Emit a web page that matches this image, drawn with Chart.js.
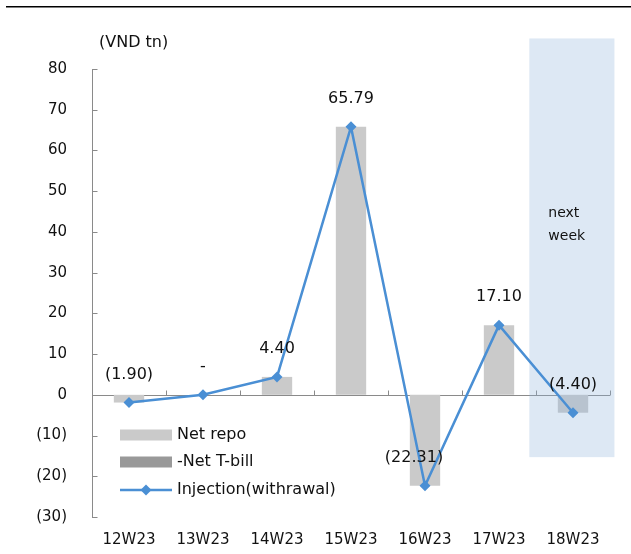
<!DOCTYPE html>
<html>
<head>
<meta charset="utf-8">
<script src="https://cdn.jsdelivr.net/npm/chart.js@4/dist/chart.umd.min.js"></script>
<style>
  html, body { margin: 0; padding: 0; background: #fff; }
  #wrap { position: relative; width: 631px; height: 554px; }
</style>
</head>
<body>
<div id="wrap"><canvas id="c" width="631" height="554"></canvas></div>
<script>
// Weekly liquidity operations (VND tn)
const categories = ['12W23', '13W23', '14W23', '15W23', '16W23', '17W23', '18W23'];
const netRepo    = [-1.90, 0, 4.40, 65.79, -22.31, 17.10, -4.40];
const netTbill   = [0, 0, 0, 0, 0, 0, 0];
const injection  = [-1.90, 0, 4.40, 65.79, -22.31, 17.10, -4.40];
const yMin = -30, yMax = 80, yStep = 10;
const unitLabel = '(VND tn)';
const forecastText = ['next', 'week'];
const forecastIndex = 6;

const FONT = '"DejaVu Sans", Verdana, sans-serif';
const LINE_BLUE = '#4a8fd4';
const AXIS_GREY = '#8a8a8a';

function fmt(v) {
  if (v === 0) return '-';
  return v < 0 ? '(' + Math.abs(v).toFixed(2) + ')' : v.toFixed(2);
}

const decor = {
  id: 'decor',
  beforeDatasetsDraw(chart) {
    const { ctx, chartArea, scales: { x, y } } = chart;
    const y0 = Math.round(y.getPixelForValue(0)) + 0.5;
    const step = x.getPixelForValue(1) - x.getPixelForValue(0);
    ctx.save();
    ctx.strokeStyle = AXIS_GREY;
    ctx.lineWidth = 1;
    ctx.beginPath();
    // zero axis with category ticks pointing up
    ctx.moveTo(chartArea.left, y0);
    ctx.lineTo(chartArea.right, y0);
    for (let i = 0; i <= categories.length; i++) {
      const px = Math.round(x.getPixelForValue(i) - step / 2) + 0.5;
      ctx.moveTo(px, y0);
      ctx.lineTo(px, y0 - 5);
    }
    // value axis ticks pointing inward
    const ax = Math.round(chartArea.left) + 0.5;
    for (let v = yMin; v <= yMax; v += yStep) {
      const py = Math.round(y.getPixelForValue(v)) + 0.5;
      ctx.moveTo(ax, py);
      ctx.lineTo(ax + 5, py);
    }
    ctx.stroke();
    ctx.restore();
  },
  beforeDatasetDraw(chart, args) {
    if (args.meta.type !== 'line') return;
    const { ctx, scales: { x, y } } = chart;
    const step = x.getPixelForValue(1) - x.getPixelForValue(0);
    const cx = x.getPixelForValue(forecastIndex);
    const left = cx - step * 0.59;
    const right = cx + step * 0.56;
    const top = y.getPixelForValue(87.5);
    const bottom = y.getPixelForValue(-15.3);
    ctx.save();
    ctx.fillStyle = 'rgba(142,178,218,0.3)';
    ctx.fillRect(left, top, right - left, bottom - top);
    ctx.fillStyle = '#111';
    ctx.font = '14px ' + FONT;
    ctx.textAlign = 'left';
    ctx.textBaseline = 'middle';
    ctx.fillText(forecastText[0], left + 19, y.getPixelForValue(44.6));
    ctx.fillText(forecastText[1], left + 19, y.getPixelForValue(38.9));
    ctx.restore();
  },
  afterDraw(chart) {
    const { ctx, chartArea, scales: { x, y } } = chart;
    ctx.save();
    // top rule
    ctx.strokeStyle = '#000';
    ctx.lineWidth = 1.6;
    ctx.beginPath();
    ctx.moveTo(6, 6.7);
    ctx.lineTo(631, 6.7);
    ctx.stroke();

    ctx.fillStyle = '#111';
    ctx.font = '16px ' + FONT;
    ctx.textAlign = 'left';
    ctx.textBaseline = 'middle';
    ctx.fillText(unitLabel, chartArea.left + 7, 43);

    // value labels
    ctx.textAlign = 'center';
    injection.forEach((v, i) => {
      let px = x.getPixelForValue(i);
      if (v < -20) px -= 11;
      const py = y.getPixelForValue(v) - 28;
      ctx.fillText(fmt(v), px, py);
    });

    // legend
    const ds = chart.data.datasets;
    const lx = chartArea.left + 28;
    const rows = [435, 462, 490];
    const order = [1, 2, 0];
    order.forEach((di, r) => {
      const d = ds[di];
      const cy = rows[r];
      if (d.type === 'line') {
        ctx.strokeStyle = d.borderColor;
        ctx.lineWidth = 2.5;
        ctx.beginPath();
        ctx.moveTo(lx, cy);
        ctx.lineTo(lx + 52, cy);
        ctx.stroke();
        ctx.fillStyle = d.borderColor;
        ctx.beginPath();
        ctx.moveTo(lx + 26, cy - 5.5);
        ctx.lineTo(lx + 31.5, cy);
        ctx.lineTo(lx + 26, cy + 5.5);
        ctx.lineTo(lx + 20.5, cy);
        ctx.closePath();
        ctx.fill();
      } else {
        ctx.fillStyle = d.backgroundColor;
        ctx.fillRect(lx, cy - 5.5, 52, 11);
      }
      ctx.fillStyle = '#111';
      ctx.textAlign = 'left';
      ctx.fillText(d.label, lx + 57, cy);
    });
    ctx.restore();
  }
};

new Chart(document.getElementById('c'), {
  data: {
    labels: categories,
    datasets: [
      {
        type: 'line',
        label: 'Injection(withrawal)',
        data: injection,
        borderColor: LINE_BLUE,
        backgroundColor: LINE_BLUE,
        borderWidth: 2.5,
        pointStyle: 'rectRot',
        pointRadius: 5.5,
        pointBorderWidth: 0,
        pointBackgroundColor: LINE_BLUE,
        tension: 0,
        order: 0
      },
      {
        type: 'bar',
        label: 'Net repo',
        data: netRepo,
        backgroundColor: '#cacaca',
        grouped: false,
        categoryPercentage: 1,
        barPercentage: 0.41,
        order: 1
      },
      {
        type: 'bar',
        label: '-Net T-bill',
        data: netTbill,
        backgroundColor: '#999999',
        grouped: false,
        categoryPercentage: 1,
        barPercentage: 0.41,
        order: 2
      }
    ]
  },
  options: {
    responsive: false,
    animation: false,
    layout: { padding: { left: 0, right: 21, top: 69, bottom: 0 } },
    plugins: { legend: { display: false }, tooltip: { enabled: false } },
    scales: {
      x: {
        grid: { display: false, drawTicks: false },
        border: { display: false },
        ticks: { color: '#111', font: { family: FONT, size: 15 }, padding: 14, maxRotation: 0 },
        afterFit(s) { s.height = 37; }
      },
      y: {
        min: yMin, max: yMax,
        grid: { display: false, drawTicks: false },
        border: { display: true, color: AXIS_GREY, width: 1 },
        ticks: {
          stepSize: yStep,
          color: '#111',
          font: { family: FONT, size: 15 },
          padding: 25,
          callback: (v) => v < 0 ? '(' + Math.abs(v) + ')' : String(v)
        },
        afterFit(s) { s.width = 92; }
      }
    }
  },
  plugins: [decor]
});
</script>
</body>
</html>
